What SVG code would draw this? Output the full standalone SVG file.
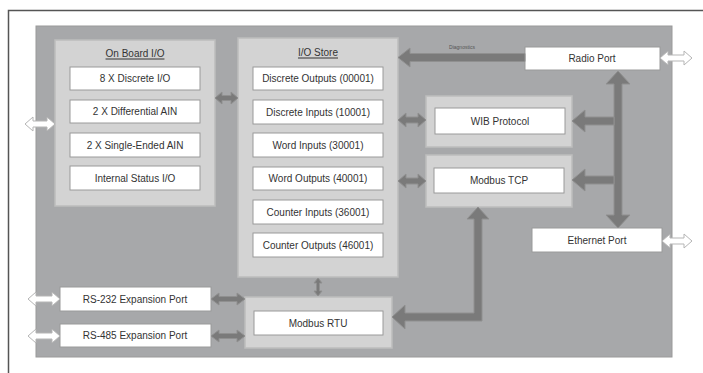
<svg xmlns="http://www.w3.org/2000/svg" width="703" height="373" viewBox="0 0 703 373">
<style>
text{font-family:"Liberation Sans",Arial,sans-serif;font-size:10px;fill:#333;text-anchor:middle;dominant-baseline:central}
.panel{fill:#d3d3d3;stroke:#bdbdbd;stroke-width:1.5}
.box{fill:#fff;stroke:#9a9a9a;stroke-width:1}
.arr{fill:#7a7a7a;stroke:#909090;stroke-width:1}
.warr{fill:#fff;stroke:#b5b5b5;stroke-width:1}
.title{text-decoration:underline}
</style>
<rect width="703" height="373" fill="#fff"/>
<path d="M8.5,373 V10.5 H703" fill="none" stroke="#555" stroke-width="1.5"/>
<rect id="main" x="36" y="26" width="636" height="331" fill="#a7a8aa" stroke="#9a9a9a"/>

<g id="onboard">
<rect class="panel" x="55" y="40" width="160" height="166"/>
<text class="title" x="135" y="53">On Board I/O</text>
<rect class="box" x="70" y="67" width="130" height="23"/><text x="135" y="78.5">8 X Discrete I/O</text>
<rect class="box" x="70" y="100" width="130" height="23"/><text x="135" y="111.5">2 X Differential AIN</text>
<rect class="box" x="70" y="133" width="130" height="24"/><text x="135" y="145">2 X Single-Ended AIN</text>
<rect class="box" x="70" y="166" width="130" height="24"/><text x="135" y="178">Internal Status I/O</text>
</g>

<g id="iostore">
<rect class="panel" x="238" y="38" width="160" height="239"/>
<text class="title" x="318" y="52">I/O Store</text>
<rect class="box" x="253" y="67" width="130" height="23"/><text x="318" y="78.5">Discrete Outputs (00001)</text>
<rect class="box" x="253" y="100" width="130" height="24"/><text x="318" y="112">Discrete Inputs (10001)</text>
<rect class="box" x="253" y="133" width="130" height="24"/><text x="318" y="145">Word Inputs (30001)</text>
<rect class="box" x="253" y="167" width="130" height="23"/><text x="318" y="178.5">Word Outputs (40001)</text>
<rect class="box" x="253" y="200" width="130" height="24"/><text x="318" y="212">Counter  Inputs (36001)</text>
<rect class="box" x="253" y="233" width="130" height="24"/><text x="318" y="245">Counter  Outputs (46001)</text>
</g>

<g id="wib">
<rect class="panel" x="426" y="96" width="146" height="51"/>
<rect class="box" x="435" y="108" width="130" height="26"/><text x="500" y="121">WIB Protocol</text>
</g>

<g id="modbustcp">
<rect class="panel" x="426" y="155" width="146" height="52"/>
<rect class="box" x="434" y="168" width="130" height="25"/><text x="499" y="180.5">Modbus TCP</text>
</g>

<g id="radio">
<rect class="box" x="525" y="47" width="135" height="23"/><text x="592" y="58.5">Radio Port</text>
</g>

<g id="ethernet">
<rect class="box" x="532" y="228" width="130" height="24"/><text x="597" y="240">Ethernet Port</text>
</g>

<g id="modbusrtu">
<rect class="panel" x="245" y="297" width="147" height="51"/>
<rect class="box" x="254" y="311" width="129" height="24"/><text x="318" y="323">Modbus RTU</text>
</g>

<g id="rs232">
<rect class="box" x="60" y="287" width="151" height="24"/><text x="135" y="299">RS-232 Expansion Port</text>
</g>

<g id="rs485">
<rect class="box" x="60" y="324" width="151" height="23"/><text x="135" y="335.5">RS-485 Expansion Port</text>
</g>

<g id="connectors">
<!-- diagnostics -->
<polygon class="arr" points="398,57.5 410,48 410,53.5 525,53.5 525,61.5 410,61.5 410,67"/>
<text x="462" y="47" style="font-size:5px;fill:#555">Diagnostics</text>
<!-- on board <-> io store -->
<polygon class="arr" points="215,98 222,92 222,95.5 231,95.5 231,92 238,98 231,104 231,100.5 222,100.5 222,104"/>
<!-- io store <-> wib -->
<polygon class="arr" points="398,120 406,113 406,117 418,117 418,113 426,120 418,127 418,123 406,123 406,127"/>
<!-- io store <-> modbus tcp -->
<polygon class="arr" points="398,181 406,174 406,178 418,178 418,174 426,181 418,188 418,184 406,184 406,188"/>
<!-- vertical bus radio <-> ethernet -->
<polygon class="arr" points="618,71 630,84 622,84 622,215 630,215 618,228 606,215 614,215 614,84 606,84"/>
<!-- branch to wib -->
<polygon class="arr" points="572,121 585,110 585,117 614,117 614,125 585,125 585,132"/>
<!-- branch to modbus tcp -->
<polygon class="arr" points="572,180 585,169 585,176 614,176 614,184 585,184 585,191"/>
<!-- modbus rtu -> modbus tcp -->
<polygon class="arr" points="478,207 489,219 482,219 482,321 405,321 405,329 392,317 405,305 405,313 474,313 474,219 467,219"/>
<!-- io store <-> modbus rtu -->
<polygon class="arr" points="318,278 322,283 319.5,283 319.5,291 322,291 318,296 314,291 316.5,291 316.5,283 314,283"/>
<!-- rs232 <-> modbus rtu -->
<polygon class="arr" points="211,299 219,293 219,296.5 237,296.5 237,293 245,299 237,305 237,301.5 219,301.5 219,305"/>
<!-- rs485 <-> modbus rtu -->
<polygon class="arr" points="211,336 219,330 219,333.5 237,333.5 237,330 245,336 237,342 237,338.5 219,338.5 219,342"/>
<!-- outer white arrows -->
<polygon class="warr" points="25,124 33,117 33,121 47,121 47,117 55,124 47,131 47,127 33,127 33,131"/>
<polygon class="warr" points="28,299 36,292 36,296 52,296 52,292 60,299 52,306 52,302 36,302 36,306"/>
<polygon class="warr" points="28,336 36,329 36,333 52,333 52,329 60,336 52,343 52,339 36,339 36,343"/>
<polygon class="warr" points="660,58 668,51 668,55 684,55 684,51 692,58 684,65 684,61 668,61 668,65"/>
<polygon class="warr" points="662,241 670,234 670,238 684,238 684,234 692,241 684,248 684,244 670,244 670,248"/>
</g>
</svg>
